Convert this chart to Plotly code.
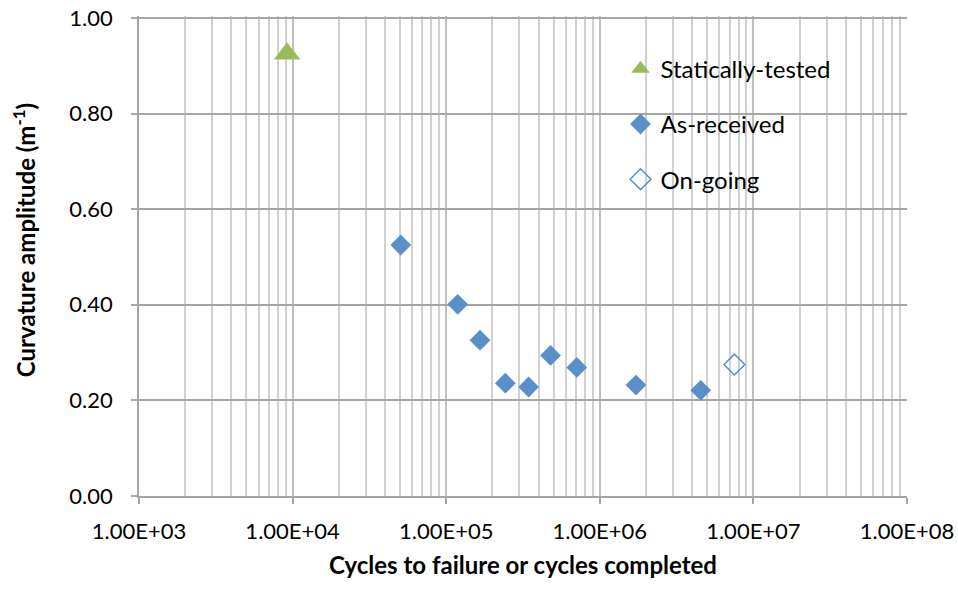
import plotly.graph_objects as go

# datos
static_cycles = [9200]
static_amp = [0.925]

received_cycles = [50600, 118800, 166000, 242700, 344000, 478000, 708000, 1720000, 4540000]
received_amp = [0.525, 0.401, 0.326, 0.236, 0.228, 0.294, 0.269, 0.232, 0.221]

ongoing_cycles = [7520000]
ongoing_amp = [0.275]

x_ticks = [1e3, 1e4, 1e5, 1e6, 1e7, 1e8]
x_labels = ["1.00E+03", "1.00E+04", "1.00E+05", "1.00E+06", "1.00E+07", "1.00E+08"]
y_ticks = [0, 0.2, 0.4, 0.6, 0.8, 1.0]
y_labels = ["0.00", "0.20", "0.40", "0.60", "0.80", "1.00"]

fig = go.Figure()

fig.add_trace(go.Scatter(x=static_cycles, y=static_amp, mode="markers", name="Statically-tested",
                         legendgroup="a",
                         marker=dict(symbol="triangle-up", size=23, color="#9BBB59")))
fig.add_trace(go.Scatter(x=received_cycles, y=received_amp, mode="markers", name="As-received",
                         legendgroup="b",
                         marker=dict(symbol="diamond", size=16, color="#5B8FC9")))
fig.add_trace(go.Scatter(x=ongoing_cycles, y=ongoing_amp, mode="markers", name="On-going",
                         legendgroup="c",
                         marker=dict(symbol="diamond-open", size=16, color="#5B8FC9",
                                     line=dict(width=1.5))))

#ejes
fig.update_xaxes(type="log", range=[3, 8], tickvals=x_ticks, ticktext=x_labels,
                 showgrid=True, gridcolor="#BFBFBF", gridwidth=1.5,
                 minor=dict(dtick="D1", showgrid=True, gridcolor="#D0D0D0", gridwidth=1.5),
                 showline=True, linecolor="#A6A6A6", linewidth=1.5,
                 ticks="outside", ticklen=6, tickcolor="#A6A6A6", tickwidth=1.5,
                 tickfont=dict(size=22, color="black"), ticklabelstandoff=9,
                 ticklabeloverflow="allow", automargin=False,
                 title=dict(text="<b>Cycles to failure or cycles completed</b>", font=dict(size=24, color="black"),
                            standoff=14),
                 zeroline=False)
fig.update_yaxes(range=[0, 1.004], tickvals=y_ticks, ticktext=y_labels,
                 showgrid=True, gridcolor="#A6A6A6", gridwidth=1.5,
                 showline=True, linecolor="#A6A6A6", linewidth=1.5,
                 ticks="outside", ticklen=6, tickcolor="#A6A6A6", tickwidth=1.5,
                 tickfont=dict(size=22, color="black"), ticklabelstandoff=14,
                 ticklabeloverflow="allow", automargin=False,
                 zeroline=False)

# titulo eje y como anotacion (no esta centrado en el eje)
fig.add_annotation(text="<b>Curvature amplitude (m<sup>-1</sup>)</b>", xref="paper", yref="paper",
                   x=-0.1497, y=0.533, xanchor="center", yanchor="middle", textangle=-90, showarrow=False,
                   font=dict(size=24, color="black"))

# fondo blanco de la leyenda (tapa las rejillas)
fig.add_shape(type="rect", xref="paper", yref="paper", x0=0.609, x1=0.949, y0=0.606, y1=0.952,
              fillcolor="white", line_width=0, layer="between")

#tamaño
fig.update_layout(width=958, height=590, plot_bgcolor="white", paper_bgcolor="white",
                  font=dict(family="Lato, Open Sans, sans-serif"),
                  margin=dict(l=139, r=51, t=16, b=94, autoexpand=False),
                  legend=dict(x=0.627, y=0.936, xanchor="left", yanchor="top",
                              bgcolor="rgba(0,0,0,0)", borderwidth=0, tracegroupgap=21,
                              font=dict(size=24, color="black")),
                  showlegend=True)

# sin margen en el body para que la figura llene la ventana, sin barra de herramientas
fig.write_html("out.html", config={"displayModeBar": False},
               post_script="document.body.style.margin='0';")
